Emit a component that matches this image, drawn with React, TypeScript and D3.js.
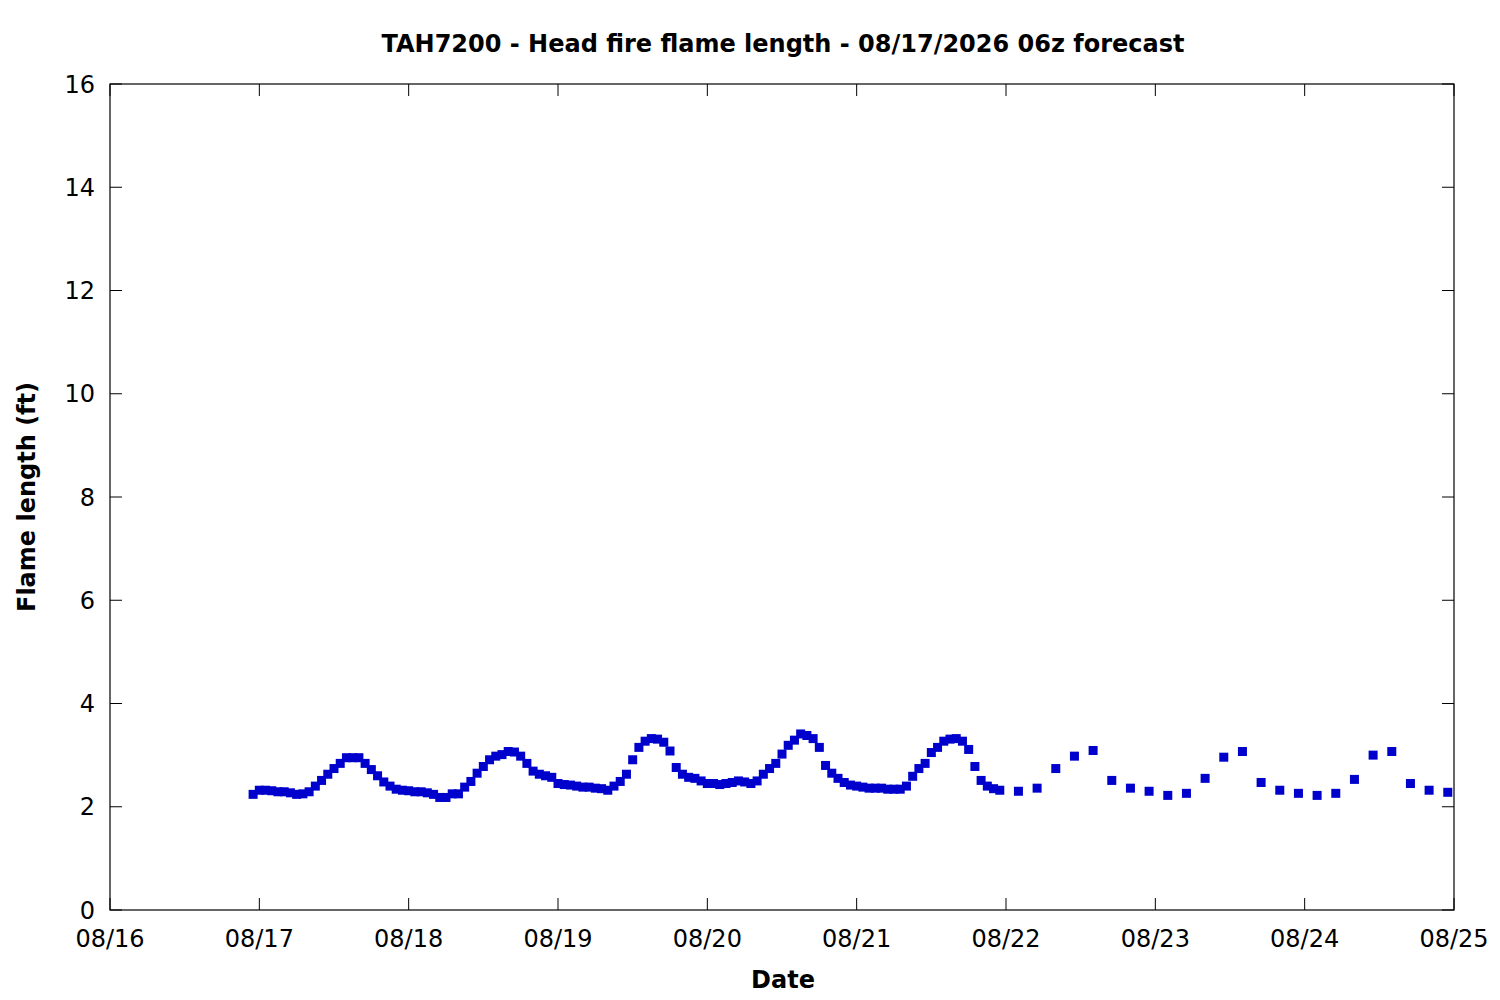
import * as d3 from 'd3';
import { useRef, useEffect } from 'react';

// hourly forecast, starting 08/16 23:00
const hourlyStart = Date.UTC(2026, 7, 16, 23);
const hourlyValues = [
  2.24, 2.32, 2.32, 2.31, 2.29, 2.29, 2.27, 2.24, 2.25, 2.29,
  2.40, 2.51, 2.63, 2.74, 2.84, 2.95, 2.95, 2.95, 2.84, 2.72,
  2.60, 2.48, 2.40, 2.34, 2.32, 2.31, 2.29, 2.29, 2.27, 2.24,
  2.18, 2.18, 2.25, 2.25, 2.38, 2.49, 2.65, 2.78, 2.91, 2.98,
  3.01, 3.07, 3.06, 2.98, 2.84, 2.69, 2.63, 2.60, 2.57, 2.45,
  2.43, 2.42, 2.40, 2.38, 2.38, 2.36, 2.35, 2.32, 2.40, 2.49,
  2.63, 2.91, 3.15, 3.27, 3.32, 3.31, 3.25, 3.08, 2.76, 2.63,
  2.57, 2.55, 2.50, 2.45, 2.45, 2.43, 2.45, 2.47, 2.50, 2.48,
  2.45, 2.50, 2.63, 2.74, 2.84, 3.02, 3.19, 3.29, 3.41, 3.38,
  3.32, 3.15, 2.80, 2.65, 2.55, 2.47, 2.42, 2.40, 2.38, 2.36,
  2.36, 2.36, 2.34, 2.34, 2.34, 2.40, 2.59, 2.74, 2.84, 3.05,
  3.15, 3.27, 3.31, 3.32, 3.27, 3.11, 2.78, 2.51, 2.40, 2.35,
  2.32,
];

// 3-hourly forecast, starting 08/22 02:00
const threeHourlyStart = Date.UTC(2026, 7, 22, 2);
const threeHourlyValues = [
  2.30, 2.36, 2.74, 2.98, 3.09, 2.51, 2.36, 2.30, 2.22, 2.26,
  2.55, 2.96, 3.07, 2.47, 2.32, 2.26, 2.22, 2.26, 2.53, 3.00,
  3.07, 2.45, 2.32, 2.28,
];

const yTicks = [0, 2, 4, 6, 8, 10, 12, 14, 16];
const xDomain = [Date.UTC(2026, 7, 16), Date.UTC(2026, 7, 25)];

const HOUR = 3600 * 1000;
const points = [
  ...hourlyValues.map((v, i) => ({ t: new Date(hourlyStart + i * HOUR), v })),
  ...threeHourlyValues.map((v, i) => ({ t: new Date(threeHourlyStart + i * 3 * HOUR), v })),
];

export default function App() {
  const svgRef = useRef<SVGSVGElement>(null);

  useEffect(() => {
    if (!svgRef.current) return;
    const svg = d3.select(svgRef.current);
    svg.selectAll('*').remove();

    const W = 1500;
    const H = 1000;
    const margin = { top: 84, right: 46, bottom: 90, left: 110 };
    const width = W - margin.left - margin.right;
    const height = H - margin.top - margin.bottom;
    const font = "'DejaVu Sans', sans-serif";
    const fs = 24;

    const x = d3.scaleUtc().domain(xDomain.map((d) => new Date(d))).range([0, width]);
    const y = d3.scaleLinear().domain([0, 16]).range([height, 0]);

    svg.append('rect').attr('width', W).attr('height', H).attr('fill', '#fff');

    const g = svg.append('g').attr('transform', `translate(${margin.left},${margin.top})`);

    const days = d3.utcDay.range(new Date(xDomain[0]), new Date(xDomain[1] + 1));
    const tickLen = 12;

    // mirrored ticks (gnuplot style)
    days.forEach((d) => {
      g.append('line').attr('x1', x(d)).attr('x2', x(d)).attr('y1', height).attr('y2', height - tickLen)
        .attr('stroke', '#000').attr('stroke-width', 1);
      g.append('line').attr('x1', x(d)).attr('x2', x(d)).attr('y1', 0).attr('y2', tickLen)
        .attr('stroke', '#000').attr('stroke-width', 1);
    });
    yTicks.forEach((t) => {
      g.append('line').attr('x1', 0).attr('x2', tickLen).attr('y1', y(t)).attr('y2', y(t))
        .attr('stroke', '#000').attr('stroke-width', 1);
      g.append('line').attr('x1', width).attr('x2', width - tickLen).attr('y1', y(t)).attr('y2', y(t))
        .attr('stroke', '#000').attr('stroke-width', 1);
    });

    // frame
    g.append('rect').attr('width', width).attr('height', height)
      .attr('fill', 'none').attr('stroke', '#000').attr('stroke-width', 1.2);

    // tick labels
    const fmt = d3.utcFormat('%m/%d');
    g.selectAll('.xlab').data(days).enter().append('text')
      .attr('x', (d) => x(d)).attr('y', height + 37)
      .attr('text-anchor', 'middle').attr('font-family', font).attr('font-size', fs)
      .text((d) => fmt(d));
    g.selectAll('.ylab').data(yTicks).enter().append('text')
      .attr('x', -15).attr('y', (d) => y(d)).attr('dy', '0.36em')
      .attr('text-anchor', 'end').attr('font-family', font).attr('font-size', fs)
      .text((d) => d);

    // points
    const s = 9;
    g.selectAll('.pt').data(points).enter().append('rect')
      .attr('x', (d) => x(d.t) - s / 2).attr('y', (d) => y(d.v) - s / 2)
      .attr('width', s).attr('height', s).attr('fill', '#0000cc');

    // titles
    svg.append('text').attr('x', 783).attr('y', 52).attr('text-anchor', 'middle')
      .attr('font-family', font).attr('font-size', fs).attr('font-weight', 'bold')
      .text('TAH7200 - Head fire flame length - 08/17/2026 06z forecast');
    svg.append('text').attr('x', 783).attr('y', 988).attr('text-anchor', 'middle')
      .attr('font-family', font).attr('font-size', fs).attr('font-weight', 'bold')
      .text('Date');
    svg.append('text').attr('transform', 'translate(35,497) rotate(-90)').attr('text-anchor', 'middle')
      .attr('font-family', font).attr('font-size', fs).attr('font-weight', 'bold')
      .text('Flame length (ft)');
  }, []);

  return (
    <div style={{ position: 'fixed', left: 0, top: 0 }}>
      <svg ref={svgRef} width={1500} height={1000} style={{ display: 'block' }} />
    </div>
  );
}
